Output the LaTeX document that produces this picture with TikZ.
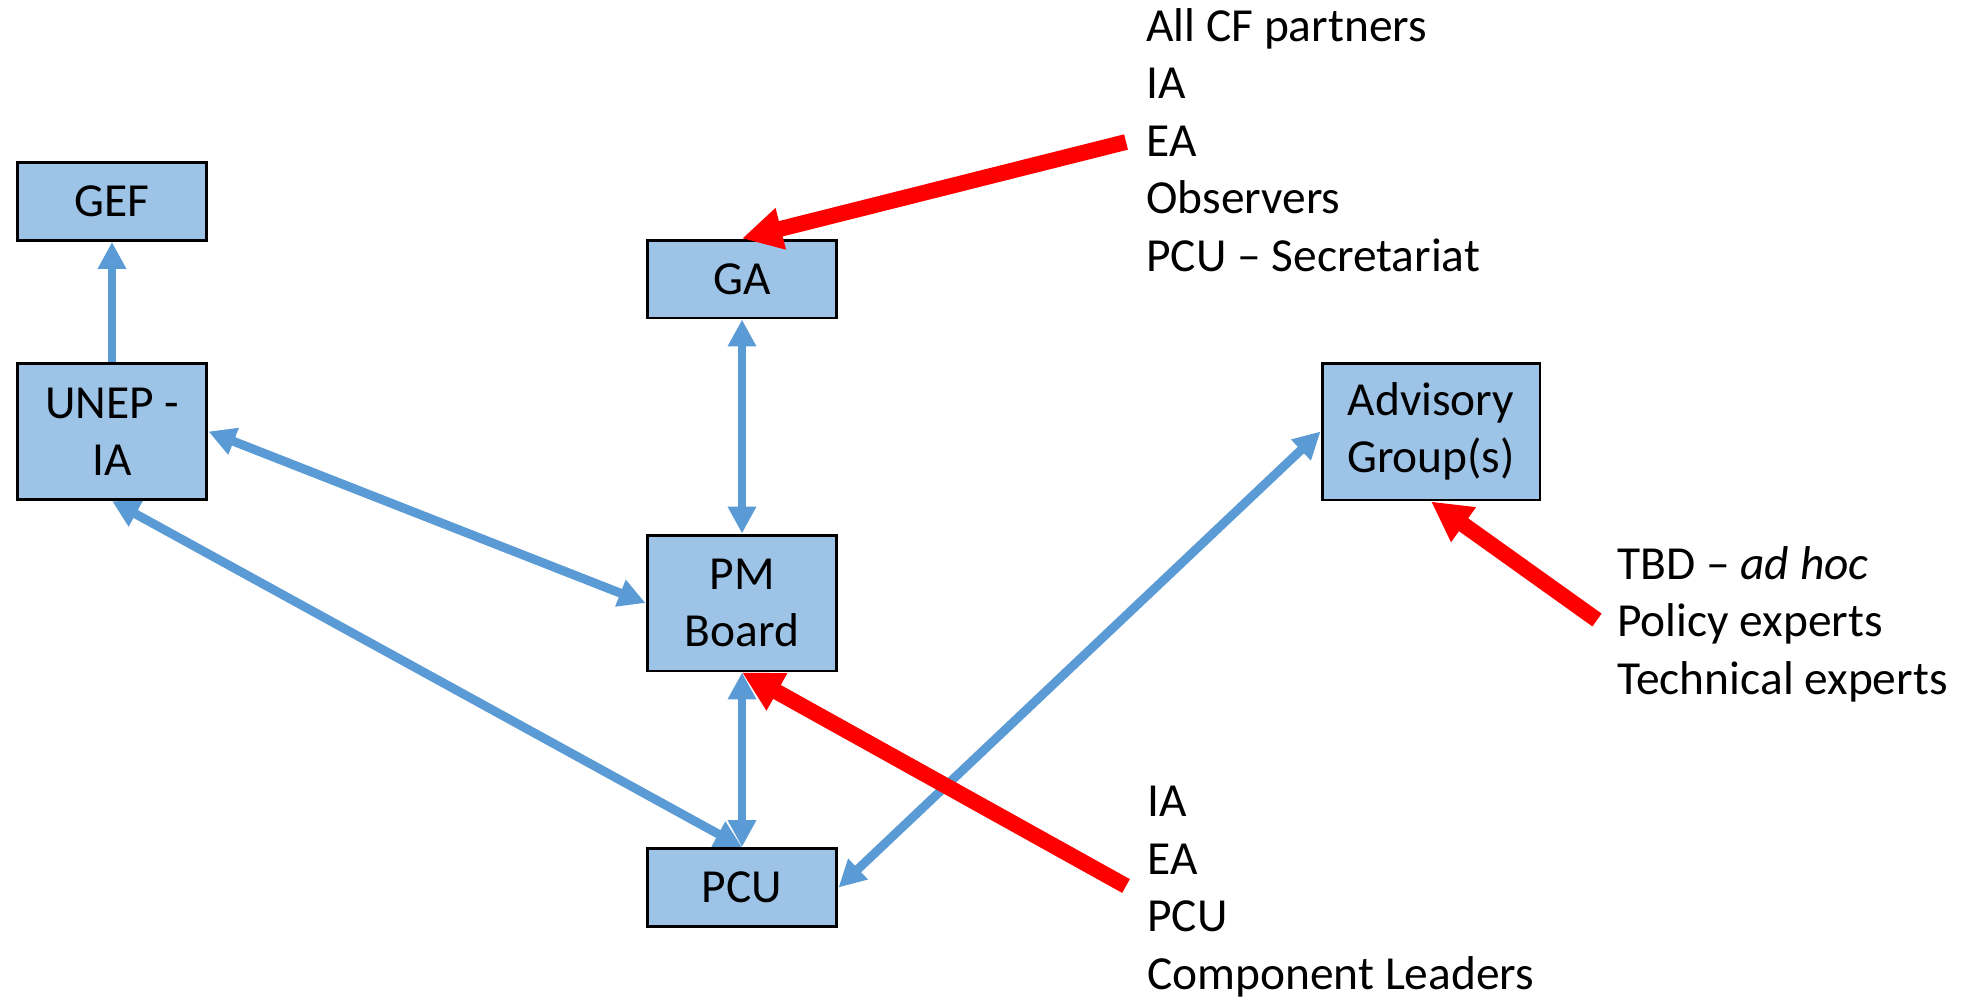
\documentclass[tikz,border=0pt]{standalone}
\usepackage{fontspec}
\setmainfont{Carlito}
\definecolor{boxblue}{RGB}{157, 195, 230}
\definecolor{linkblue}{RGB}{91, 155, 213}
\definecolor{feedred}{RGB}{255, 0, 0}
\usetikzlibrary{arrows.meta, positioning}

\begin{document}
\begin{tikzpicture}[x=0.02cm, y=-0.02cm,
  orgbox/.style={draw=black, line width=1.7pt, fill=boxblue, minimum width=3.8cm,
    minimum height=1.56cm, inner sep=0pt, align=center, font=\fontsize{27}{32.7}\selectfont},
  tallbox/.style={orgbox, minimum height=2.72cm},
  link/.style={linkblue, line width=5.1pt, >={Triangle[width=0.54cm, length=0.54cm]}},
  feed/.style={feedred, line width=9pt, ->, >={Triangle[width=0.8cm, length=0.8cm]}},
  members/.style={anchor=base west, align=left, inner sep=0pt, font=\fontsize{27}{32.7}\selectfont}]
  \useasboundingbox (0,0) rectangle (1977,998);

  % Boxes
  \node[orgbox] (gef) at (112,201.5) {GEF};
  \node[tallbox] (unep) at (112,431.5) {UNEP -\\IA};
  \node[orgbox] (ga) at (742,279) {GA};
  \node[tallbox] (pm) at (742,603) {PM\\Board};
  \node[orgbox] (pcu) at (742,887.5) {PCU};
  \node[tallbox, minimum width=4.36cm, minimum height=2.74cm] (adv) at (1431,431.5) {Advisory\\Group(s)};

  % Member lists (placed at the baseline of their last line)
  \node[members] (galist) at (1146,271) {All CF partners\\IA\\EA\\Observers\\PCU -- Secretariat};
  \node[members] (pmlist) at (1147,989) {IA\\EA\\PCU\\Component Leaders};
  \node[members] (advlist) at (1617,694) {TBD -- \textit{ad hoc}\\Policy experts\\Technical experts};
  \coordinate (gafrom) at (1126,142);
  \coordinate (pmfrom) at (1126,886);
  \coordinate (advfrom) at (1597,620);

  % Reporting lines
  \draw[link, ->] (unep) -- (gef);
  \draw[link, <->] (ga) -- (pm);
  \draw[link, <->] (pm) -- (pcu);
  \draw[link, <->] (unep.east) -- (pm.west);
  \draw[link, <->] (unep.south) -- (pcu.north);
  \draw[link, <->] (adv.west) -- (pcu.east);

  % Who sits where
  \draw[feed] (gafrom) -- (ga.north);
  \draw[feed] (pmfrom) -- (pm.south);
  \draw[feed] (advfrom) -- (adv.south);
\end{tikzpicture}
\end{document}
